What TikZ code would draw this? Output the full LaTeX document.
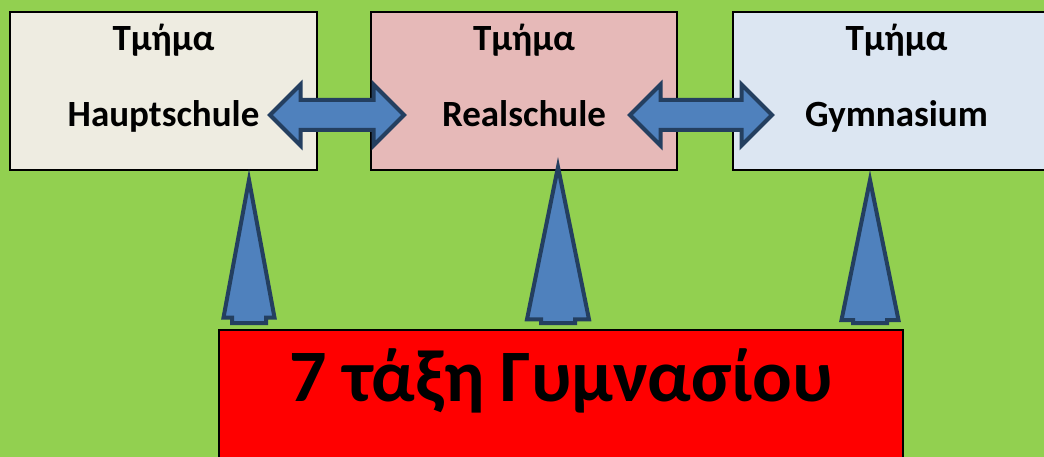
\documentclass[tikz,border=0pt]{standalone}
\usepackage{fontspec}
\setmainfont{Carlito}
\usetikzlibrary{shapes.arrows, positioning, calc}
\definecolor{meadow}{HTML}{92D050}
\definecolor{hsfill}{HTML}{EEECE1}
\definecolor{rsfill}{HTML}{E6B9B8}
\definecolor{gymfill}{HTML}{DCE6F2}
\definecolor{arrowfill}{HTML}{4F81BD}
\definecolor{arrowline}{HTML}{243F60}

\begin{document}
\begin{tikzpicture}[
        x=1pt, y=-1pt,
        box/.style={rectangle, draw=black, line width=1.5pt, minimum width=307pt, minimum height=158pt, inner sep=0pt},
        title/.style={font=\bfseries\fontsize{37}{44}\selectfont, anchor=base, inner sep=0pt},
        grade/.style={font=\bfseries\fontsize{74}{88}\selectfont, anchor=base, inner sep=0pt},
        biarrow/.style={double arrow, draw=arrowline, fill=arrowfill, line width=4pt, double arrow tip angle=90, double arrow head extend=15.5pt, inner sep=13pt, minimum height=134pt},
        uparrow/.style={single arrow, draw=arrowline, fill=arrowfill, line width=4pt, shape border rotate=90, inner xsep=15pt, inner ysep=0pt, anchor=tail}
    ]
        \clip (0,0) rectangle (1044,457);
        \fill[meadow] (0,0) rectangle (1044,457);

        % top row
        \node[box, fill=hsfill] (hs) at (163.5,91) {};
        \node[box, fill=rsfill, minimum width=306pt] (rs) at (524,91) {};
        \node[box, fill=gymfill, minimum width=327pt] (gym) at (896.5,91) {};
        \node[title] (hs-title) at ($(hs.north)+(0,39)$) {Τμήμα};
        \node[title] (hs-name) at ($(hs.north)+(0,115)$) {Hauptschule};
        \node[title] (rs-title) at ($(rs.north)+(0,39)$) {Τμήμα};
        \node[title] (rs-name) at ($(rs.north)+(0,115)$) {Realschule};
        \node[title] (gym-title) at ($(gym.north)+(0,39)$) {Τμήμα};
        \node[title] (gym-name) at ($(gym.north)+(0,115)$) {Gymnasium};

        % bottom box
        \node[box, fill=red, minimum width=684pt, minimum height=150pt] (seventh) at (561,405) {};
        \node[grade] (seventh-name) at ($(seventh.north)+(0,72)$) {7 τάξη Γυμνασίου};

        % arrows
        \node[biarrow] (hs-rs) at (337,115) {};
        \node[biarrow, minimum height=142pt] (rs-gym) at (701,115) {};
        \node[uparrow, single arrow tip angle=21, single arrow head extend=8.5pt, minimum height=143pt] (up-hs) at (249,325) {};
        \node[uparrow, single arrow tip angle=23, single arrow head extend=14pt, minimum height=156pt] (up-rs) at (558,325) {};
        \node[uparrow, single arrow tip angle=23, single arrow head extend=11.5pt, minimum height=143pt] (up-gym) at (870,325) {};
    \end{tikzpicture}
\end{document}
